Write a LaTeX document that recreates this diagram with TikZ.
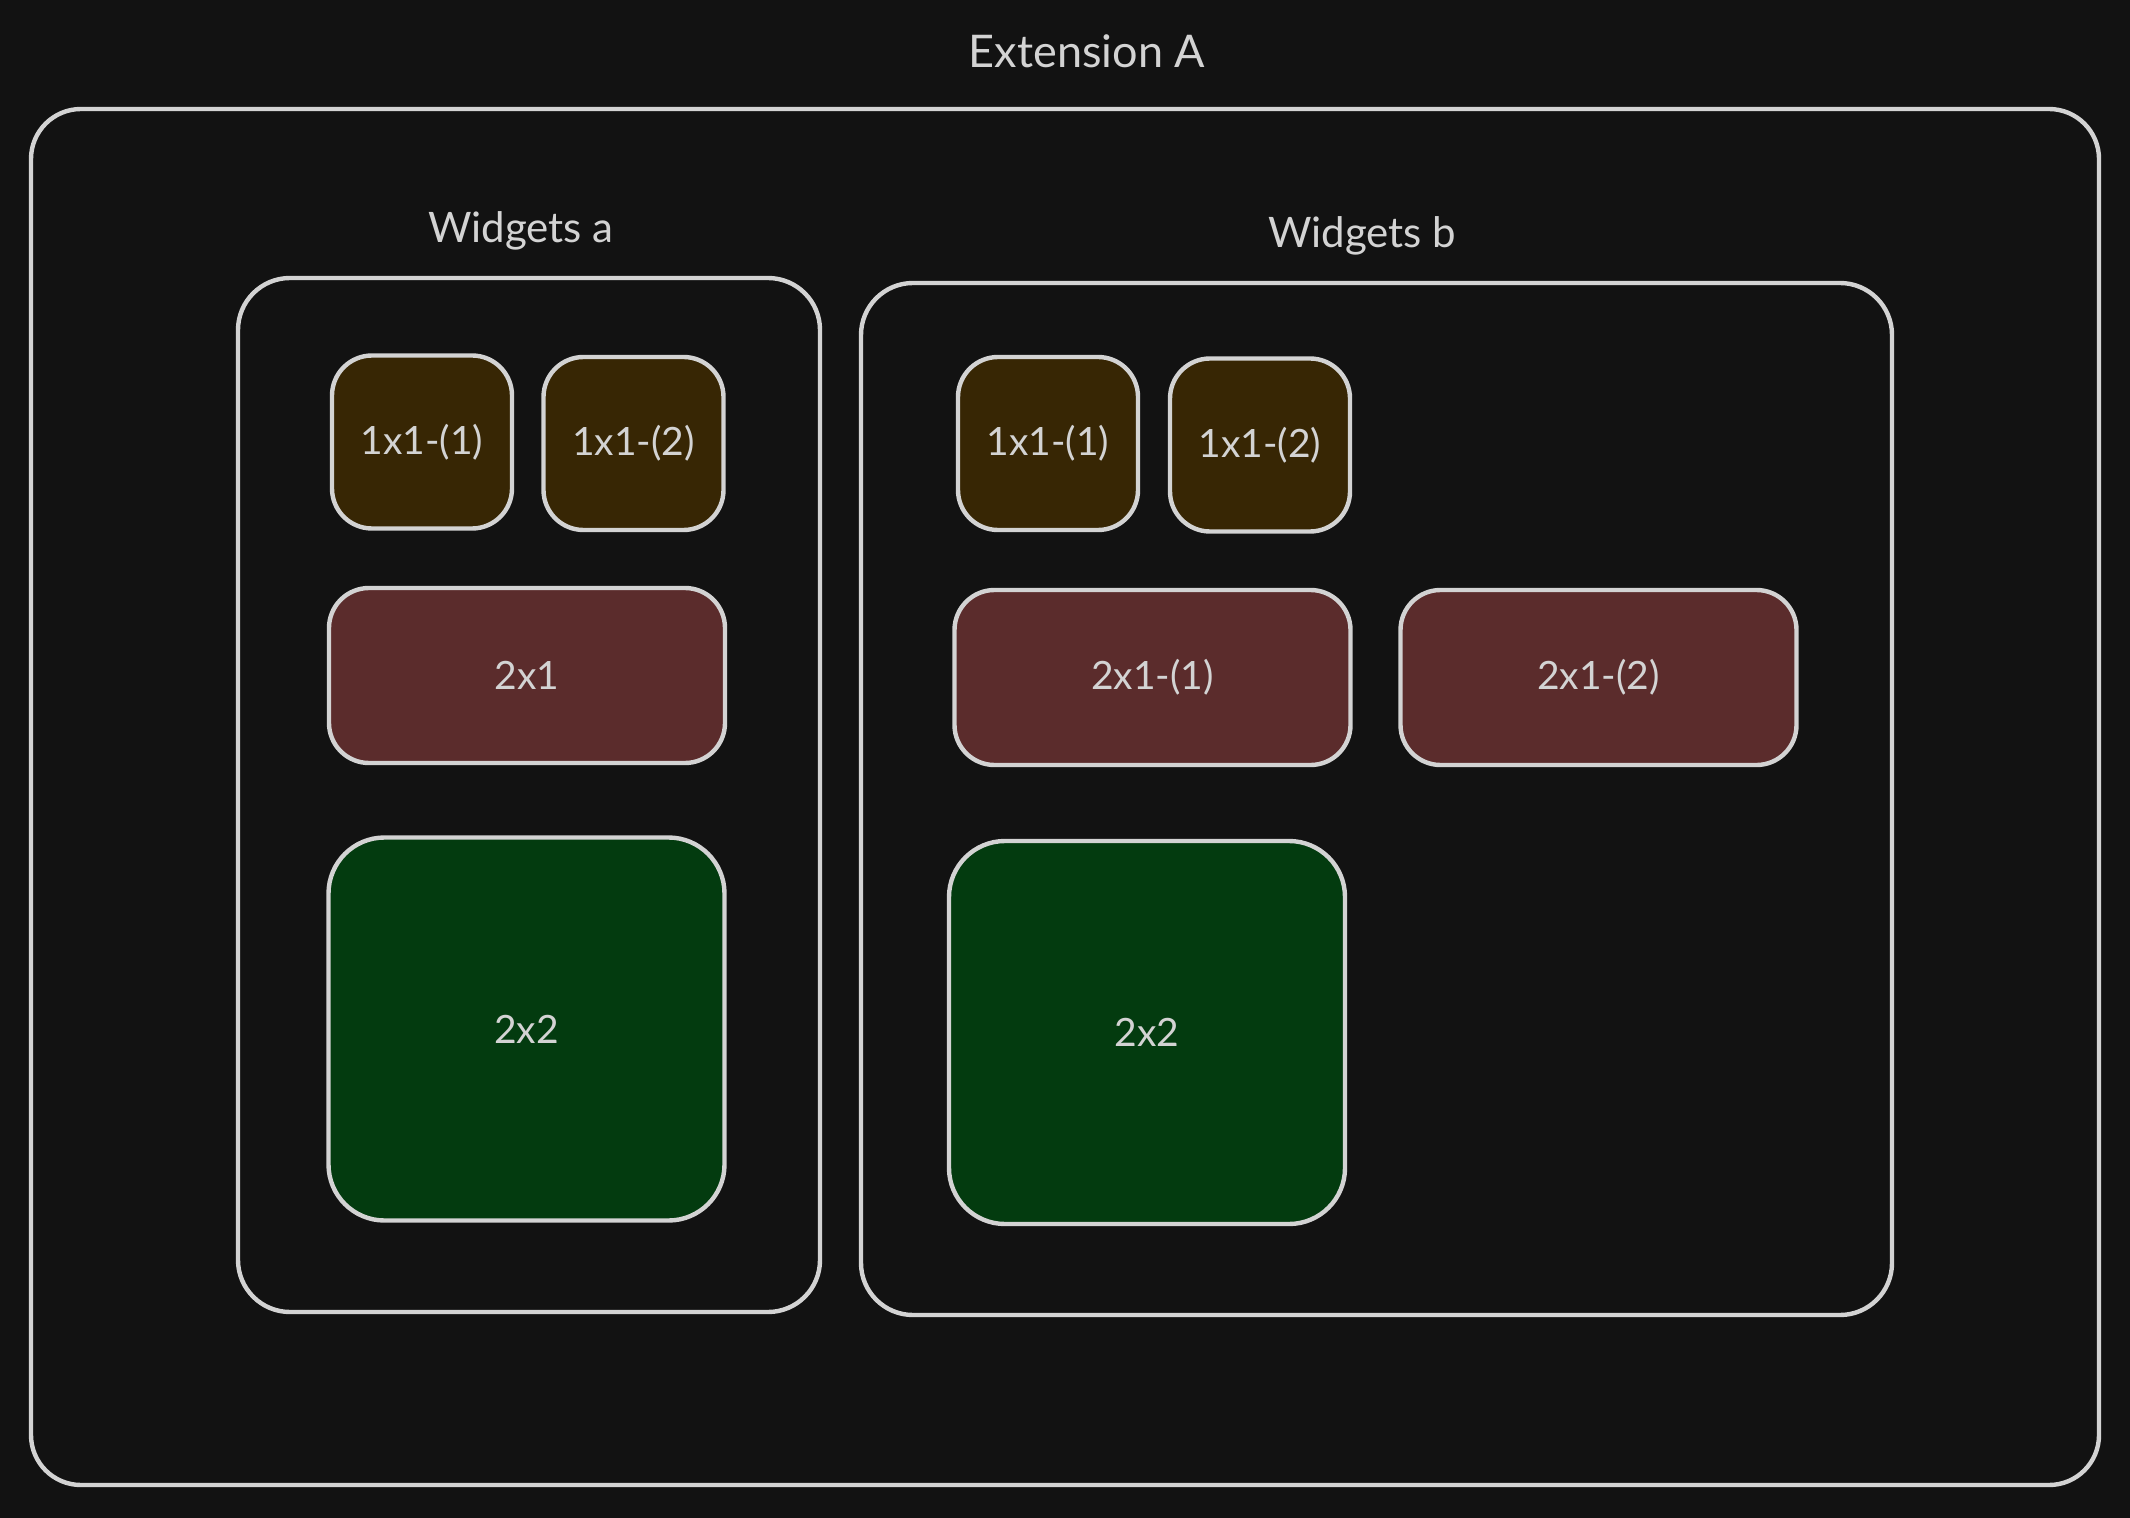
\documentclass[tikz,border=0pt]{standalone}
\usepackage{fontspec}
\setmainfont{Lato}
\definecolor{bgc}{HTML}{121212}
\definecolor{strokec}{HTML}{D3D3D3}
\definecolor{brownc}{HTML}{372604}
\definecolor{redc}{HTML}{5B2C2C}
\definecolor{greenc}{HTML}{033B0F}
\tikzset{
  box/.style={draw=strokec, line width=2.2pt, rectangle, inner sep=0pt, outer sep=0pt,
    text=strokec, font=\fontsize{19.5}{23}\selectfont},
  onebyone/.style={box, fill=brownc, rounded corners=20pt, minimum width=90pt, minimum height=86.5pt},
  twobyone/.style={box, fill=redc, rounded corners=20pt, minimum width=198pt, minimum height=87.5pt},
  twobytwo/.style={box, fill=greenc, rounded corners=28pt, minimum width=198pt, minimum height=191.5pt},
  group/.style={draw=strokec, line width=2.2pt, rectangle, rounded corners=26pt, inner sep=0pt, outer sep=0pt},
  grouplabel/.style={text=strokec, anchor=base, inner sep=0pt, font=\fontsize{21}{25}\selectfont},
}
\begin{document}
\begin{tikzpicture}[x=0.5pt, y=-0.5pt]
\fill[bgc] (0,0) rectangle (2130,1518);
\useasboundingbox (0,0) rectangle (2130,1518);
% outer container
\node[group, rounded corners=25pt, minimum width=1034pt, minimum height=688pt] (outer) at (1065,797) {};
\node[grouplabel, font=\fontsize{22.5}{27}\selectfont] (titleA) at (1087,68) {Extension A};
% group a
\node[group, minimum width=291pt, minimum height=517pt] (grpA) at (529,795) {};
\node[grouplabel] (labA) at (521,243) {Widgets a};
\node[onebyone] (a11) at (422,442) {1x1-(1)};
\node[onebyone] (a12) at (633.5,443.5) {1x1-(2)};
\node[twobyone] (a21) at (527,675.5) {2x1};
\node[twobytwo] (a22) at (526.5,1029) {2x2};
% group b
\node[group, minimum width=515.5pt, minimum height=516pt] (grpB) at (1376.5,799) {};
\node[grouplabel] (labB) at (1362,248) {Widgets b};
\node[onebyone] (b11) at (1048,443.5) {1x1-(1)};
\node[onebyone] (b12) at (1260,445) {1x1-(2)};
\node[twobyone] (b21) at (1152.5,677.5) {2x1-(1)};
\node[twobyone] (b22) at (1598.5,677.5) {2x1-(2)};
\node[twobytwo] (b2x2) at (1147,1032.5) {2x2};
\end{tikzpicture}
\end{document}
